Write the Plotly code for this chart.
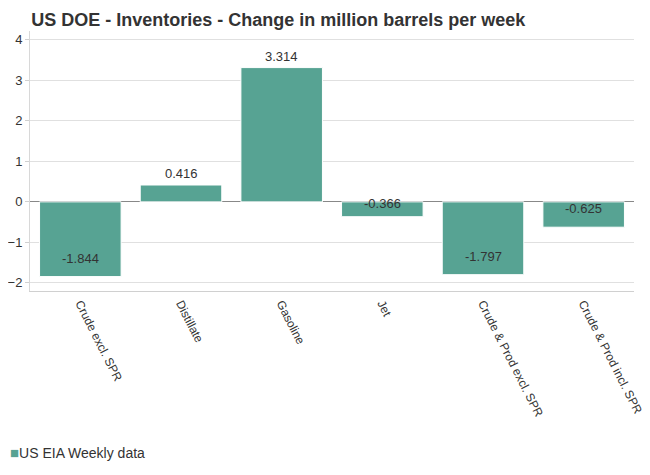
import plotly.graph_objects as go

# weekly change, million barrels
categories = ["Crude excl. SPR", "Distillate", "Gasoline", "Jet",
              "Crude & Prod excl. SPR", "Crude & Prod incl. SPR"]
changes = [-1.844, 0.416, 3.314, -0.366, -1.797, -0.625]
y_ticks = [-2, -1, 0, 1, 2, 3, 4]
series_name = "US EIA Weekly data"

bar_color = "#57a393"
text_color = "#333333"
px_per_unit = 40.5  # approx vertical scale of the plot, used to keep labels inside short bars

fig = go.Figure()

fig.add_trace(go.Bar(
    x=categories,
    y=changes,
    name=series_name,
    marker=dict(color=bar_color, line=dict(color="#ffffff", width=1)),
    showlegend=False,
))

# --- value labels ---
for cat, val in zip(categories, changes):
    if val >= 0:
        shift = 2
    else:
        bar_px = abs(val) * px_per_unit
        shift = min(9, bar_px - 11)
    fig.add_annotation(
        x=cat, y=val, text=f"{val:.3f}", showarrow=False,
        yanchor="bottom", yshift=shift,
        font=dict(size=13, color=text_color),
    )

# --- legend drawn as text, small square + label ---
fig.add_annotation(
    text=f"<span style='color:{bar_color};font-size:15px'>■</span>{series_name}",
    xref="paper", yref="paper", x=-0.037, y=-0.623,
    xanchor="left", yanchor="middle", showarrow=False,
    font=dict(size=14, color=text_color),
)

# the page body adds an 8px offset, so the figure is a little smaller than the window
fig.update_layout(
    width=642,
    height=467,
    margin=dict(l=22, r=16, t=23, b=184, autoexpand=False),
    paper_bgcolor="white",
    plot_bgcolor="white",
    font=dict(family="Liberation Sans, Arial, sans-serif", size=13, color=text_color),
    title=dict(
        text="<b>US DOE - Inventories - Change in million barrels per week</b>",
        x=0.002, xref="paper", xanchor="left",
        y=0.974, yref="container", yanchor="middle",
        font=dict(size=18, color=text_color),
    ),
    bargap=0.19,
    xaxis=dict(
        automargin=False,
        tickangle=63,
        showline=True, linecolor="#d0d0d0", linewidth=1,
        showgrid=False,
        tickfont=dict(size=12, color=text_color),
        ticks="",
    ),
    yaxis=dict(
        automargin=False,
        range=[-2.2, 4.217],
        tickvals=y_ticks,
        showgrid=True, gridcolor="#e0e0e0", gridwidth=1,
        showline=True, linecolor="#d8d8d8", linewidth=1,
        ticks="outside", ticklen=4, tickcolor="#d0d0d0",
        zeroline=True, zerolinecolor="#888888", zerolinewidth=1,
        tickfont=dict(size=13, color=text_color),
    ),
)

fig.write_html("out.html")
